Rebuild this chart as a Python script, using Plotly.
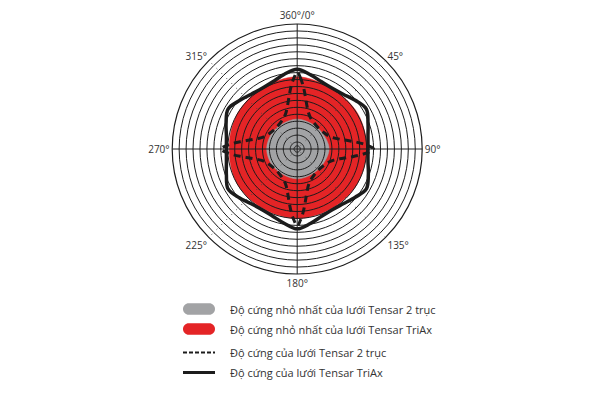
import plotly.graph_objects as go

# angular tick labels
ANGLE_TICKS = [0, 45, 90, 135, 180, 225, 270, 315]
ANGLE_LABELS = ["360°/0°", "45°", "90°", "135°", "180°", "225°", "270°", "315°"]

# grid rings (radial units, outer ring = 18)
RING_R = [0.45] + list(range(1, 18))
RING_THETA = list(range(0, 361, 5))

# minimum stiffness, biaxial (grey disc)
GREY_THETA = [0, 30, 60, 90, 120, 150, 180, 210, 240, 270, 300, 330, 360]
GREY_R = [4.3, 4.2, 4.3, 4.6, 4.3, 4.2, 4.3, 4.2, 4.3, 4.4, 4.3, 4.2, 4.3]

# minimum stiffness, TriAx (red disc)
RED_THETA = [0, 30, 60, 90, 120, 150, 180, 210, 240, 270, 300, 330, 360]
RED_R = [10.4, 10.0, 10.1, 10.0, 10.0, 9.9, 10.0, 9.9, 10.0, 9.8, 10.0, 10.1, 10.4]

# stiffness, biaxial (dashed)
DASH_THETA = [0, 2.5, 5, 7.5, 10, 13, 17, 23, 32, 45, 58, 67, 73, 77, 80, 82.5, 85, 87.5,
              90, 92.5, 95, 97.5, 100, 103, 107, 113, 122, 135, 148, 157, 163, 167, 170, 172.5, 175, 177.5,
              180, 182.5, 185, 187.5, 190, 193, 197, 203, 212, 225, 238, 247, 253, 257, 260, 262.5, 265, 267.5,
              270, 272.5, 275, 277.5, 280, 283, 287, 293, 302, 315, 328, 337, 343, 347, 350, 352.5, 355, 357.5, 360]
DASH_R = [11.1, 10.3, 9.3, 8.2, 7.2, 6.3, 5.5, 4.9, 4.5, 4.3, 4.5, 4.9, 5.5, 6.3, 7.2, 8.2, 9.3, 10.3,
          11.0, 10.3, 9.3, 8.2, 7.2, 6.3, 5.5, 4.9, 4.5, 4.3, 4.5, 4.9, 5.5, 6.3, 7.2, 8.2, 9.3, 10.3,
          11.1, 10.3, 9.3, 8.2, 7.2, 6.3, 5.5, 4.9, 4.5, 4.3, 4.5, 4.9, 5.5, 6.3, 7.2, 8.2, 9.3, 10.3,
          11.0, 10.3, 9.3, 8.2, 7.2, 6.3, 5.5, 4.9, 4.5, 4.3, 4.5, 4.9, 5.5, 6.3, 7.2, 8.2, 9.3, 10.3, 11.1]

# stiffness, TriAx (solid)
SOLID_THETA = list(range(0, 361, 10))
SOLID_R = [11.5, 10.85, 10.3, 10.1, 10.3, 10.9,
           11.5, 10.85, 10.35, 10.2, 10.35, 10.9,
           11.5, 10.85, 10.3, 10.1, 10.3, 10.9,
           11.5, 10.85, 10.3, 10.1, 10.3, 10.9,
           11.5, 10.85, 10.35, 10.2, 10.35, 10.9,
           11.5, 10.85, 10.3, 10.1, 10.3, 10.9, 11.5]

LEGEND_LABELS = ["Độ cứng nhỏ nhất của lưới Tensar 2 trục",
                 "Độ cứng nhỏ nhất của lưới Tensar TriAx",
                 "Độ cứng của lưới Tensar 2 trục",
                 "Độ cứng của lưới Tensar TriAx"]

GREY = "#a2a3a5"
RED = "#e42426"
INK = "#1c1c1c"

# the page body adds an 8px margin, so the figure is drawn 8px smaller and shifted
OFF = 8
W, H = 600 - OFF, 400 - OFF


def px(x, y):
    return (x - OFF) / W, 1 - (y - OFF) / H


def pill_path(x0, x1, cy, h):
    r = h / 2
    k = 0.5523 * r
    def p(x, y):
        a, b = px(x, y)
        return f"{a:.5f},{b:.5f}"
    path = "M" + p(x0 + r, cy - r)
    path += " L" + p(x1 - r, cy - r)
    path += " C" + p(x1 - r + k, cy - r) + " " + p(x1, cy - k) + " " + p(x1, cy)
    path += " C" + p(x1, cy + k) + " " + p(x1 - r + k, cy + r) + " " + p(x1 - r, cy + r)
    path += " L" + p(x0 + r, cy + r)
    path += " C" + p(x0 + r - k, cy + r) + " " + p(x0, cy + k) + " " + p(x0, cy)
    path += " C" + p(x0, cy - k) + " " + p(x0 + r - k, cy - r) + " " + p(x0 + r, cy - r)
    return path + " Z"


fig = go.Figure()

fig.add_trace(go.Scatterpolar(r=RED_R, theta=RED_THETA, mode="lines", fill="toself",
                              fillcolor=RED, line=dict(color=RED, width=0.5, shape="spline")))
fig.add_trace(go.Scatterpolar(r=GREY_R, theta=GREY_THETA, mode="lines", fill="toself",
                              fillcolor=GREY, line=dict(color=GREY, width=0.5, shape="spline")))

# rings and axes on top of the fills
for rr in RING_R:
    fig.add_trace(go.Scatterpolar(r=[rr] * len(RING_THETA), theta=RING_THETA, mode="lines",
                                  line=dict(color=INK, width=1), hoverinfo="skip"))
fig.add_trace(go.Scatterpolar(r=[18, 18], theta=[0, 180], mode="lines",
                              line=dict(color=INK, width=1), hoverinfo="skip"))
fig.add_trace(go.Scatterpolar(r=[18, 18], theta=[90, 270], mode="lines",
                              line=dict(color=INK, width=1), hoverinfo="skip"))
for a in [45, 135]:
    fig.add_trace(go.Scatterpolar(r=[18, 18], theta=[a, a + 180], mode="lines",
                                  line=dict(color="#444", width=1, dash="1px,6px"), hoverinfo="skip"))

fig.add_trace(go.Scatterpolar(r=DASH_R, theta=DASH_THETA, mode="lines",
                              line=dict(color=INK, width=3, dash="7px,5px", shape="spline")))
fig.add_trace(go.Scatterpolar(r=SOLID_R, theta=SOLID_THETA, mode="lines",
                              line=dict(color=INK, width=3.5, shape="spline")))

cx, cy, rad = 297.2, 149, 125
dx0, dy1 = px(cx - rad, cy - rad)
dx1, dy0 = px(cx + rad, cy + rad)
fig.update_layout(
    width=W, height=H,
    margin=dict(l=0, r=0, t=0, b=0),
    paper_bgcolor="white",
    showlegend=False,
    polar=dict(
        domain=dict(x=[dx0, dx1], y=[dy0, dy1]),
        bgcolor="white",
        radialaxis=dict(visible=False, range=[0, 18]),
        angularaxis=dict(rotation=90, direction="clockwise",
                         tickvals=ANGLE_TICKS, ticktext=ANGLE_LABELS,
                         showgrid=False, ticks="", showline=True,
                         linecolor=INK, linewidth=1.2,
                         tickfont=dict(family="Open Sans", size=10, color="#333")),
    ),
)

# legend drawn by hand
shapes = []
shapes.append(dict(type="path", xref="paper", yref="paper", path=pill_path(183, 215, 309, 11.5),
                   fillcolor=GREY, line=dict(width=0)))
shapes.append(dict(type="path", xref="paper", yref="paper", path=pill_path(183, 215, 329, 11.5),
                   fillcolor=RED, line=dict(width=0)))
x0, y0 = px(183, 352.5)
x1, _ = px(215, 352.5)
shapes.append(dict(type="line", xref="paper", yref="paper", x0=x0, x1=x1, y0=y0, y1=y0,
                   line=dict(color=INK, width=2, dash="4px,2px")))
x0, y0 = px(183, 372.5)
shapes.append(dict(type="line", xref="paper", yref="paper", x0=x0, x1=x1, y0=y0, y1=y0,
                   line=dict(color=INK, width=3)))
fig.update_layout(shapes=shapes)

for label, yy in zip(LEGEND_LABELS, [309, 329, 352.5, 372.5]):
    ax, ay = px(228, yy)
    fig.add_annotation(x=ax, y=ay, xref="paper", yref="paper", text=label, showarrow=False,
                       xanchor="left", yanchor="middle",
                       font=dict(family="Open Sans", size=11, color="#333"))

fig.write_html("out.html")
